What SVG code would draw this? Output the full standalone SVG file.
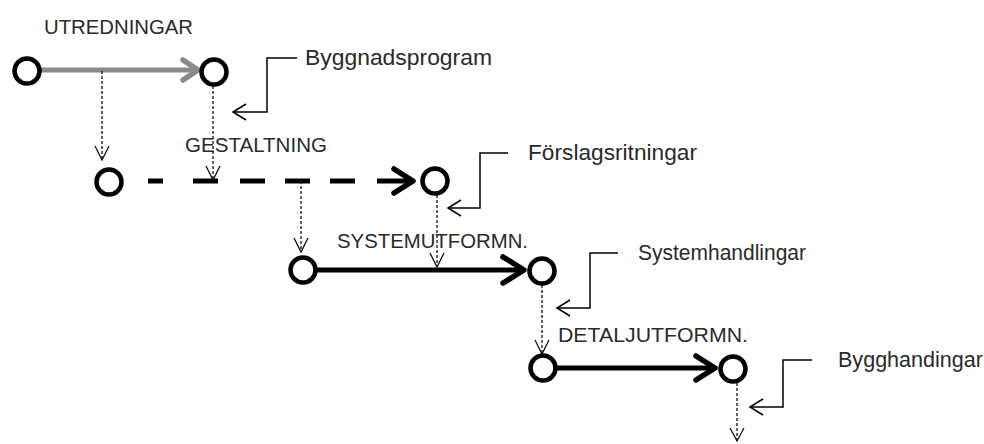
<svg xmlns="http://www.w3.org/2000/svg" width="984" height="444" viewBox="0 0 984 444">
<style>
.node{fill:#fff;stroke:#000;stroke-width:4.5}
.dot{fill:none;stroke:#111;stroke-width:1.3;stroke-dasharray:3 2}
.head{fill:none;stroke:#111;stroke-width:1.3}
.co{fill:none;stroke:#000;stroke-width:1.5}
.flow{fill:none;stroke:#000;stroke-width:5;stroke-linecap:butt}
.chev{fill:none;stroke-width:5.5;stroke-linecap:round;stroke-linejoin:round}
.stage{font-family:"Liberation Sans",Arial,sans-serif;font-size:21px;fill:#2a2a2a}
.doc{font-family:"Liberation Sans",Arial,sans-serif;font-size:21.5px;fill:#2a2a2a}
</style>
<rect width="984" height="444" fill="#fff"/>
<g id="connectors">
  <line x1="41" y1="70" x2="196" y2="70" stroke="#8a8a8a" stroke-width="5"/>
  <polyline class="chev" stroke="#8a8a8a" points="183,60 198,70 183,80"/>
  <path class="flow" stroke-width="6" d="M148 181H163M193 181H218M240 181H265M285 181H310M330 181H355M377 181H408"/>
  <polyline class="chev" stroke="#000" points="394,169 413,181 394,193"/>
  <line class="flow" x1="317" y1="270" x2="522" y2="270"/>
  <polyline class="chev" stroke="#000" points="503,257 524,270 503,283"/>
  <line class="flow" x1="557" y1="368" x2="712" y2="368"/>
  <polyline class="chev" stroke="#000" points="696,356 715,368 696,380"/>
  <line class="dot" x1="102" y1="71" x2="102" y2="160"/>
  <polyline class="head" points="95,146 102,160 109,146"/>
  <line class="dot" x1="213" y1="86" x2="213" y2="180"/>
  <polyline class="head" points="206,166 213,180 220,166"/>
  <line class="dot" x1="301" y1="181" x2="301" y2="252"/>
  <polyline class="head" points="294,238 301,252 308,238"/>
  <line class="dot" x1="437" y1="195" x2="437" y2="267"/>
  <polyline class="head" points="430,253 437,267 444,253"/>
  <line class="dot" x1="542" y1="285" x2="542" y2="354"/>
  <polyline class="head" points="535,340 542,354 549,340"/>
  <line class="dot" x1="737" y1="383" x2="737" y2="441"/>
  <polyline class="head" points="730,428 737,441 744,428"/>
  <polyline class="co" points="297,58 267,58 267,112 233,112"/>
  <polyline class="co" points="246,104 233,112 246,120"/>
  <polyline class="co" points="508,153 480,153 480,208 448,208"/>
  <polyline class="co" points="461,200 448,208 461,216"/>
  <polyline class="co" points="618,253 590,253 590,308 557,308"/>
  <polyline class="co" points="570,300 557,308 570,316"/>
  <polyline class="co" points="812,360 783,360 783,407 750,407"/>
  <polyline class="co" points="763,399 750,407 763,415"/>
</g>
<g id="n1"><circle class="node" cx="27" cy="71" r="12.5"/></g>
<g id="n2"><circle class="node" cx="214" cy="72" r="12.5"/></g>
<g id="n3"><circle class="node" cx="109" cy="182" r="12.5"/></g>
<g id="n4"><circle class="node" cx="435" cy="181" r="12.5"/></g>
<g id="n5"><circle class="node" cx="303" cy="270" r="12.5"/></g>
<g id="n6"><circle class="node" cx="542" cy="271" r="12.5"/></g>
<g id="n7"><circle class="node" cx="543" cy="368" r="12.5"/></g>
<g id="n8"><circle class="node" cx="733" cy="369" r="12.5"/></g>
<g id="labels">
  <text class="stage" x="44" y="34" textLength="149" lengthAdjust="spacingAndGlyphs">UTREDNINGAR</text>
  <text class="stage" x="185" y="152" textLength="142" lengthAdjust="spacingAndGlyphs">GESTALTNING</text>
  <text class="stage" x="337" y="248" textLength="191" lengthAdjust="spacingAndGlyphs">SYSTEMUTFORMN.</text>
  <text class="stage" x="558" y="342" textLength="190" lengthAdjust="spacingAndGlyphs">DETALJUTFORMN.</text>
  <text class="doc" x="305" y="65" textLength="187" lengthAdjust="spacingAndGlyphs">Byggnadsprogram</text>
  <text class="doc" x="528" y="160" textLength="169" lengthAdjust="spacingAndGlyphs">Förslagsritningar</text>
  <text class="doc" x="638" y="260" textLength="168" lengthAdjust="spacingAndGlyphs">Systemhandlingar</text>
  <text class="doc" x="838" y="367" textLength="145" lengthAdjust="spacingAndGlyphs">Bygghandingar</text>
</g>
</svg>
